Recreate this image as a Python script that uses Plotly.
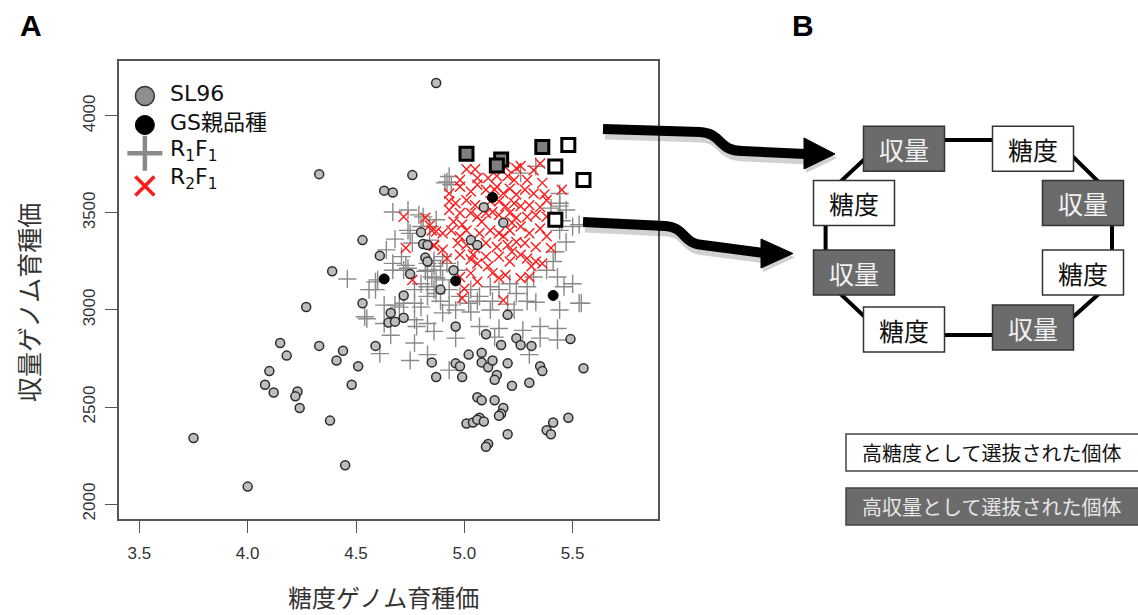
import plotly.graph_objects as go

# ---------------- data ----------------
sl96 = [(4.87, 4170), (4.33, 3700), (4.76, 3695), (4.63, 3615), (4.67, 3605), (4.53, 3360), (4.61, 3280),
        (4.39, 3200), (4.75, 3185), (4.80, 3400), (4.81, 3340), (4.83, 3335), (4.82, 3270), (4.83, 3250),
        (4.89, 3105), (4.72, 3075), (4.53, 3035), (4.27, 3015), (4.66, 2985), (4.65, 2935), (4.68, 2940),
        (4.72, 2960), (4.15, 2830), (4.33, 2815), (4.44, 2790), (4.41, 2740), (4.59, 2815), (4.18, 2765),
        (4.51, 2710), (4.10, 2685), (4.08, 2615), (4.12, 2575), (4.23, 2580), (4.22, 2555), (4.48, 2615),
        (4.24, 2495), (4.38, 2430), (3.75, 2340), (4.45, 2200), (4.00, 2090), (4.96, 2915), (5.20, 2975),
        (5.10, 2875), (5.17, 2820), (5.24, 2855), (5.26, 2820), (5.31, 2815), (5.49, 2850), (4.85, 2730),
        (4.87, 2655), (5.02, 2770), (4.96, 2725), (4.98, 2710), (4.99, 2655), (5.08, 2780), (5.08, 2730),
        (5.11, 2705), (5.13, 2740), (5.15, 2665), (5.14, 2640), (5.20, 2725), (5.22, 2610), (5.30, 2625),
        (5.35, 2710), (5.36, 2685), (5.55, 2700), (5.06, 2550), (5.08, 2535), (5.14, 2535), (5.18, 2495),
        (5.17, 2465), (5.16, 2455), (5.07, 2445), (5.01, 2415), (5.04, 2420), (5.06, 2435), (5.09, 2425),
        (5.20, 2360), (5.41, 2420), (5.38, 2380), (5.40, 2360), (5.48, 2445), (5.11, 2310), (5.10, 2295),
        (5.03, 3360), (5.06, 3335), (5.09, 3530), (5.18, 3450), (4.95, 3205)]

gs_parent = [(4.63, 3160), (4.96, 3150), (5.13, 3580), (5.41, 3075)]

r1f1 = [(4.67, 3505), (4.74, 3515), (4.68, 3365), (4.46, 3160), (4.59, 3145), (4.59, 3105), (4.67, 3205),
        (4.63, 3025), (4.54, 2965), (4.63, 2930), (4.77, 2950), (4.78, 2915), (4.77, 3035), (4.80, 3015),
        (4.66, 2870), (4.77, 2830), (4.86, 2890), (4.70, 3015), (4.75, 3395), (4.73, 3230), (4.83, 3205),
        (4.86, 3255), (4.80, 3135), (4.86, 3105), (4.83, 3070), (4.64, 3310), (4.84, 3430), (4.91, 3655),
        (4.79, 3490), (4.87, 3465), (4.80, 3430), (5.44, 3535), (5.47, 3515), (5.40, 3525), (5.44, 3410),
        (5.50, 3430), (4.67, 3240), (4.72, 3205), (4.83, 3240), (4.86, 3225), (4.89, 3205), (4.92, 3240),
        (4.85, 3170), (4.90, 3155), (4.83, 3120), (4.87, 3085), (4.93, 3105), (4.98, 3070), (5.03, 3105),
        (5.07, 3070), (5.12, 3120), (5.16, 3105), (5.21, 3135), (5.24, 3085), (5.29, 3120), (5.32, 3170),
        (5.38, 3205), (5.43, 3170), (5.46, 3120), (5.50, 3135), (5.53, 3035), (4.60, 3155), (4.56, 3105),
        (4.72, 3035), (4.77, 3105), (5.33, 3740), (5.26, 3705), (4.93, 3688), (5.44, 3600), (4.68, 3025),
        (4.89, 3045), (4.93, 3025), (5.02, 3035), (5.06, 3045), (5.13, 3045), (5.20, 3030), (5.29, 3045),
        (5.33, 3040), (5.44, 3000), (5.54, 3035), (4.55, 2955), (4.75, 2740), (4.83, 2770), (4.96, 2855),
        (5.16, 2905), (5.14, 2860), (5.27, 2895), (5.35, 2855), (5.43, 2905), (5.43, 2845), (4.93, 2690),
        (5.30, 2770), (4.61, 2775), (4.90, 2985), (4.83, 2930), (4.96, 3000), (5.12, 3000), (5.23, 3000),
        (5.03, 2990), (5.07, 2915), (5.35, 2915), (4.92, 3660), (4.94, 3645), (5.44, 3550), (5.53, 3440),
        (4.81, 3480), (4.74, 3410), (4.76, 3345), (4.84, 3360), (4.71, 3275), (4.74, 3215), (4.82, 3200),
        (4.90, 3275), (4.97, 3205), (4.87, 3165), (5.42, 3300), (5.47, 3350), (5.45, 3460), (5.41, 3250)]

r2f1 = [(5.01, 3725), (5.05, 3725), (5.19, 3735), (5.24, 3730), (5.26, 3742), (5.35, 3755), (5.32, 3720),
        (4.98, 3670), (5.06, 3680), (5.11, 3680), (5.15, 3690), (5.20, 3690), (5.23, 3670), (5.29, 3670),
        (5.36, 3655), (5.45, 3620), (4.93, 3600), (4.98, 3635), (5.03, 3610), (5.06, 3645), (5.10, 3620),
        (5.15, 3635), (5.18, 3600), (5.21, 3625), (5.24, 3595), (5.28, 3620), (5.32, 3600), (5.37, 3595),
        (4.93, 3560), (4.96, 3550), (5.01, 3565), (5.05, 3540), (5.12, 3560), (5.16, 3560), (5.19, 3535),
        (5.23, 3550), (5.26, 3535), (5.30, 3540), (5.35, 3530), (5.38, 3565), (4.93, 3515), (4.98, 3500),
        (5.03, 3500), (5.06, 3480), (5.13, 3505), (5.16, 3490), (5.21, 3500), (5.24, 3475), (5.29, 3480),
        (5.33, 3490), (5.38, 3480), (4.72, 3480), (4.85, 3410), (4.90, 3395), (4.94, 3410), (4.98, 3380),
        (5.01, 3410), (5.07, 3395), (5.12, 3410), (5.16, 3395), (5.21, 3410), (5.26, 3430), (5.30, 3395),
        (5.35, 3420), (5.38, 3380), (4.73, 3320), (4.86, 3335), (4.90, 3310), (4.97, 3345), (5.01, 3335),
        (5.05, 3320), (5.10, 3345), (5.15, 3325), (5.20, 3335), (5.24, 3350), (5.28, 3345), (5.33, 3325),
        (5.40, 3320), (4.92, 3265), (4.98, 3285), (5.03, 3260), (5.06, 3240), (5.10, 3275), (5.16, 3275),
        (5.21, 3250), (5.26, 3285), (5.29, 3265), (5.31, 3225), (5.33, 3250), (5.36, 3240), (4.76, 3155),
        (4.98, 3170), (5.03, 3190), (5.06, 3145), (5.13, 3190), (5.16, 3165), (5.19, 3180), (5.26, 3165),
        (5.30, 3170), (5.00, 3110), (5.18, 3050), (4.99, 3060), (4.82, 3475), (4.84, 3435), (4.87, 3405),
        (4.86, 3330), (4.95, 3455), (5.08, 3455), (5.14, 3620), (5.22, 3450), (5.10, 3500), (4.99, 3440),
        (5.11, 3225), (5.22, 3300), (5.04, 3285), (5.18, 3380)]

sel_yield = [(5.01, 3805), (5.17, 3775), (5.15, 3745), (5.36, 3840)]   # high-yield selected (grey squares)
sel_sugar = [(5.48, 3850), (5.42, 3740), (5.55, 3670), (5.42, 3465)]   # high-sugar selected (white squares)

sl96_x, sl96_y = [p[0] for p in sl96], [p[1] for p in sl96]
gs_x, gs_y = [p[0] for p in gs_parent], [p[1] for p in gs_parent]
r1_x, r1_y = [p[0] for p in r1f1], [p[1] for p in r1f1]
r2_x, r2_y = [p[0] for p in r2f1], [p[1] for p in r2f1]
sy_x, sy_y = [p[0] for p in sel_yield], [p[1] for p in sel_yield]
ss_x, ss_y = [p[0] for p in sel_sugar], [p[1] for p in sel_sugar]

x_ticks = [3.5, 4.0, 4.5, 5.0, 5.5]
x_ticklabels = ["3.5", "4.0", "4.5", "5.0", "5.5"]
y_ticks = [2000, 2500, 3000, 3500, 4000]
y_ticklabels = ["2000", "2500", "3000", "3500", "4000"]

x_title = "糖度ゲノム育種価"
y_title = "収量ゲノム育種価"
legend_labels = ["SL96", "GS親品種", "R<sub>1</sub>F<sub>1</sub>", "R<sub>2</sub>F<sub>1</sub>"]
ring_labels = ["収量", "糖度", "収量", "糖度", "収量", "糖度", "収量", "糖度"]
key_labels = ["高糖度として選抜された個体", "高収量として選抜された個体"]

# ---------------- layout helpers ----------------
W, H = 1138, 615
def fx(p):
    return p / W
def fy(p):
    return 1 - p / H

CJK = "Noto Sans CJK JP"
LAT = "Liberation Sans, Arial"

fig = go.Figure()

fig.add_trace(go.Scatter(x=r1_x, y=r1_y, mode="markers", showlegend=False, hoverinfo="skip",
                         marker=dict(symbol="cross-thin", size=13, color="#8a8a8a",
                                     line=dict(color="#8a8a8a", width=1.4))))
fig.add_trace(go.Scatter(x=r2_x, y=r2_y, mode="markers", showlegend=False, hoverinfo="skip",
                         marker=dict(symbol="x-thin", size=10, color="#ff1a1a",
                                     line=dict(color="#ff1a1a", width=1.4))))
fig.add_trace(go.Scatter(x=sl96_x, y=sl96_y, mode="markers", showlegend=False, hoverinfo="skip",
                         marker=dict(symbol="circle", size=9, color="#bdbdbd",
                                     line=dict(color="#2b2b2b", width=1.5))))
fig.add_trace(go.Scatter(x=gs_x, y=gs_y, mode="markers", showlegend=False, hoverinfo="skip",
                         marker=dict(symbol="circle", size=10, color="black",
                                     line=dict(color="black", width=1))))
fig.add_trace(go.Scatter(x=sy_x, y=sy_y, mode="markers", showlegend=False, hoverinfo="skip",
                         marker=dict(symbol="square", size=13, color="#7f7f7f",
                                     line=dict(color="black", width=3))))
fig.add_trace(go.Scatter(x=ss_x, y=ss_y, mode="markers", showlegend=False, hoverinfo="skip",
                         marker=dict(symbol="square", size=13, color="white",
                                     line=dict(color="black", width=3))))

# ---- legend of panel A (overlay axes spanning the plot area, 0..1) ----
leg_fx = 0.048
leg_fy = [0.9236, 0.8603, 0.7985, 0.7271]
leg_styles = [
    dict(symbol="circle", size=19, color="#8f8f8f", line=dict(color="#333333", width=1.5)),
    dict(symbol="circle", size=19, color="black", line=dict(color="black", width=1)),
    dict(symbol="cross-thin", size=25, color="#8a8a8a", line=dict(color="#8a8a8a", width=4.5)),
    dict(symbol="x-thin", size=19, color="#ff1a1a", line=dict(color="#ff1a1a", width=3.5)),
]
for yy, st in zip(leg_fy, leg_styles):
    fig.add_trace(go.Scatter(x=[leg_fx], y=[yy], xaxis="x2", yaxis="y2", mode="markers",
                             showlegend=False, hoverinfo="skip", marker=st))

leg_text_y = [93, 122, 151, 179]
annotations = []
for lab, ty in zip(legend_labels, leg_text_y):
    annotations.append(dict(x=fx(168), y=fy(ty), xref="paper", yref="paper", text=lab, showarrow=False,
                            xanchor="left", yanchor="middle",
                            font=dict(family="DejaVu Sans, " + CJK, size=22, color="#111111")))

# axis titles & panel letters
annotations += [
    dict(x=fx(383), y=fy(596), xref="paper", yref="paper", text=x_title, showarrow=False,
         xanchor="center", yanchor="middle", font=dict(family=CJK, size=24, color="#333333")),
    dict(x=fx(28), y=fy(303), xref="paper", yref="paper", text=y_title, showarrow=False, textangle=-90,
         xanchor="center", yanchor="middle", font=dict(family=CJK, size=25, color="#333333")),
    dict(x=fx(31), y=fy(25), xref="paper", yref="paper", text="<b>A</b>", showarrow=False,
         xanchor="center", yanchor="middle", font=dict(family=LAT, size=30, color="black")),
    dict(x=fx(803), y=fy(25), xref="paper", yref="paper", text="<b>B</b>", showarrow=False,
         xanchor="center", yanchor="middle", font=dict(family=LAT, size=30, color="black")),
]

shapes = []

# ---- arrows ----
def arrow(body, head, shadow=True):
    (x0, y0), (x1, y1), (c1x, c1y), (c2x, c2y), (x2, y2), (x3, y3) = body
    def dpath(ox, oy):
        return (f"M {fx(x0+ox):.5f},{fy(y0+oy):.5f} L {fx(x1+ox):.5f},{fy(y1+oy):.5f} "
                f"C {fx(c1x+ox):.5f},{fy(c1y+oy):.5f} {fx(c2x+ox):.5f},{fy(c2y+oy):.5f} "
                f"{fx(x2+ox):.5f},{fy(y2+oy):.5f} L {fx(x3+ox):.5f},{fy(y3+oy):.5f}")
    def hpath(ox, oy):
        return "M " + " L ".join(f"{fx(x+ox):.5f},{fy(y+oy):.5f}" for x, y in head) + " Z"
    out = []
    if shadow:
        out.append(dict(type="path", path=dpath(2, 4), xref="paper", yref="paper",
                        line=dict(color="rgba(0,0,0,0.18)", width=13)))
        out.append(dict(type="path", path=hpath(2, 4), xref="paper", yref="paper",
                        fillcolor="rgba(0,0,0,0.18)", line=dict(width=0)))
    out.append(dict(type="path", path=dpath(0, 0), xref="paper", yref="paper",
                    line=dict(color="black", width=10)))
    out.append(dict(type="path", path=hpath(0, 0), xref="paper", yref="paper", fillcolor="black",
                    line=dict(color="black", width=1)))
    return out

shapes += arrow([(603, 129), (700, 132), (722, 133), (718, 151), (742, 151), (806, 154)],
                [(804, 138), (835, 154), (804, 169)])
shapes += arrow([(583, 222), (665, 226), (686, 227), (682, 244), (703, 245), (764, 253)],
                [(761, 239), (793, 253.5), (761, 268)])

# ---- ring (octagon) of panel B ----
octo = [(885, 140), (1056, 140), (1112, 195), (1112, 282), (1053, 335), (884, 335), (825.6, 280), (825.6, 195.5)]
path = "M " + " L ".join(f"{fx(x):.5f},{fy(y):.5f}" for x, y in octo) + " Z"
shapes.append(dict(type="path", path=path, xref="paper", yref="paper", line=dict(color="black", width=4)))

box_centers = [(904, 148.7), (1033, 148.7), (1083, 203), (1083, 272.5),
               (1033, 327.5), (904, 329.5), (854, 272.5), (854, 203)]
BW, BH = 81, 45
for lab, (cx, cy) in zip(ring_labels, box_centers):
    dark = lab == "収量"
    shapes.append(dict(type="rect", xref="paper", yref="paper",
                       x0=fx(cx - BW / 2), x1=fx(cx + BW / 2), y0=fy(cy + BH / 2), y1=fy(cy - BH / 2),
                       fillcolor="#6b6b6b" if dark else "white", line=dict(color="#333333", width=1.5)))
    annotations.append(dict(x=fx(cx), y=fy(cy), xref="paper", yref="paper", text=lab, showarrow=False,
                            xanchor="center", yanchor="middle",
                            font=dict(family=CJK, size=25, color="#f2f2f2" if dark else "#111111")))

# ---- key boxes of panel B ----
key_rows = [(434, 471, "white", "#111111"), (488, 525, "#6b6b6b", "#e6e6e6")]
for lab, (y0, y1, fc, tc) in zip(key_labels, key_rows):
    shapes.append(dict(type="rect", xref="paper", yref="paper", x0=fx(846), x1=fx(1145),
                       y0=fy(y1), y1=fy(y0), fillcolor=fc, line=dict(color="#444444", width=1.5)))
    annotations.append(dict(x=fx(860), y=fy((y0 + y1) / 2), xref="paper", yref="paper", text=lab,
                            showarrow=False, xanchor="left", yanchor="middle",
                            font=dict(family=CJK, size=20, color=tc)))

axis_common = dict(showline=True, mirror=True, linecolor="#555555", linewidth=1.5, ticks="outside",
                   ticklen=12, tickwidth=1.3, tickcolor="#555555", showgrid=False, zeroline=False,
                   tickfont=dict(family=LAT, size=17, color="#333333"))

fig.update_layout(
    width=W, height=H, margin=dict(l=0, r=0, t=0, b=0),
    paper_bgcolor="white", plot_bgcolor="white", showlegend=False,
    xaxis=dict(domain=[fx(119), fx(658)], range=[3.406, 5.894], tickmode="array", tickvals=x_ticks,
               ticktext=x_ticklabels, ticklabelstandoff=6, **axis_common),
    yaxis=dict(domain=[fy(519), fy(61)], range=[1923, 4283], tickmode="array", tickvals=y_ticks,
               ticktext=y_ticklabels, tickangle=-90, ticklabelstandoff=3, **axis_common),
    xaxis2=dict(overlaying="x", range=[0, 1], visible=False, anchor="y2"),
    yaxis2=dict(overlaying="y", range=[0, 1], visible=False, anchor="x2"),
    shapes=shapes, annotations=annotations,
)

fig.write_html("out.html")
